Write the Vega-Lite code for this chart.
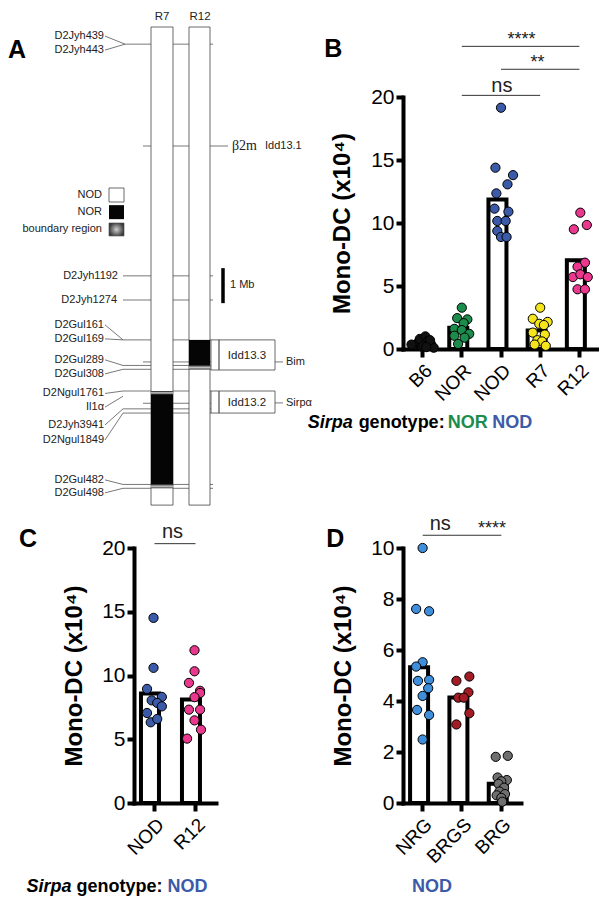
{
  "$schema": "https://vega.github.io/schema/vega-lite/v6.json",
  "background": "white",
  "padding": {"left": 8, "top": 10, "right": 0, "bottom": 0},
  "config": {
    "view": {"stroke": null},
    "font": "Liberation Sans",
    "axis": {"domainColor": "black", "domainWidth": 4, "domainCap": "square", "tickColor": "black", "tickWidth": 4, "tickSize": 7, "labelFont": "Liberation Sans", "labelFontSize": 19, "labelColor": "black", "grid": false, "titleFont": "Liberation Sans", "titleFontSize": 24, "titleFontWeight": "bold", "titleColor": "black"},
    "axisX": {"labelAngle": -45, "tickSize": 8, "labelPadding": 4},
    "axisY": {"labelPadding": 2, "labelFontSize": 21}
  },
  "resolve": {"scale": {"color": "independent"}},
  "bounds": "flush",
  "columns": 2,
  "spacing": {"row": 199, "column": 187},
  "concat": [
    {
      "width": 82,
      "height": 252,
      "layer": [
        {
          "data": {"values": [
            {"x1": -9, "y1": 0.49, "x2": 79, "y2": 0.49},
            {"x1": 9, "y1": 3.4, "x2": 94, "y2": 3.4},
            {"x1": -11, "y1": 7.11, "x2": 79, "y2": 7.11},
            {"x1": -11, "y1": 7.8, "x2": 79, "y2": 7.8},
            {"x1": -11, "y1": 8.94, "x2": 77, "y2": 8.94},
            {"x1": 9, "y1": 9.57, "x2": 77, "y2": 9.57},
            {"x1": -11, "y1": 9.67, "x2": 77, "y2": 9.67},
            {"x1": -11, "y1": 9.78, "x2": 77, "y2": 9.78},
            {"x1": -11, "y1": 10.4, "x2": 77, "y2": 10.4},
            {"x1": 9, "y1": 10.75, "x2": 77, "y2": 10.75},
            {"x1": -11, "y1": 10.91, "x2": 77, "y2": 10.91},
            {"x1": -11, "y1": 11.03, "x2": 77, "y2": 11.03},
            {"x1": -11, "y1": 13.07, "x2": 79, "y2": 13.07},
            {"x1": -11, "y1": 13.18, "x2": 79, "y2": 13.18},
            {"x1": -29, "y1": 0.26, "x2": -9, "y2": 0.49},
            {"x1": -29, "y1": 0.66, "x2": -9, "y2": 0.49},
            {"x1": -29, "y1": 8.51, "x2": -11, "y2": 8.94},
            {"x1": -29, "y1": 8.91, "x2": -11, "y2": 8.94},
            {"x1": -29, "y1": 9.51, "x2": -11, "y2": 9.67},
            {"x1": -29, "y1": 9.91, "x2": -11, "y2": 9.78},
            {"x1": -29, "y1": 10.47, "x2": -11, "y2": 10.4},
            {"x1": -29, "y1": 10.86, "x2": -11, "y2": 10.55},
            {"x1": -29, "y1": 11.37, "x2": -11, "y2": 10.91},
            {"x1": -29, "y1": 11.8, "x2": -11, "y2": 11.03},
            {"x1": -29, "y1": 12.94, "x2": -11, "y2": 13.07},
            {"x1": -29, "y1": 13.31, "x2": -11, "y2": 13.18},
            {"x1": 141, "y1": 9.57, "x2": 149, "y2": 9.57},
            {"x1": 141, "y1": 10.74, "x2": 149, "y2": 10.74},
            {"x1": 85, "y1": 8.94, "x2": 85, "y2": 9.8},
            {"x1": 85, "y1": 10.4, "x2": 85, "y2": 11.03}
          ]},
          "mark": {"type": "rule", "color": "#555555", "strokeWidth": 0.8},
          "encoding": {
            "x": {"field": "x1", "type": "quantitative", "scale": {"domain": [0, 82], "nice": false, "zero": false}, "axis": null},
            "x2": {"field": "x2"},
            "y": {"field": "y1", "type": "quantitative", "scale": {"domain": [2, 9.2], "reverse": true, "nice": false, "zero": false}, "axis": null},
            "y2": {"field": "y2"}
          }
        },
        {
          "data": {"values": [
            {"x1": 17, "x2": 39, "y1": 0, "y2": 13.66},
            {"x1": 55, "x2": 76, "y1": 0, "y2": 13.66},
            {"x1": -25, "x2": -10, "y1": 4.6, "y2": 5.0},
            {"x1": 77, "x2": 141, "y1": 8.94, "y2": 9.8},
            {"x1": 77, "x2": 141, "y1": 10.4, "y2": 11.03}
          ]},
          "mark": {"type": "rect", "fill": "white", "stroke": "#444444", "strokeWidth": 0.8},
          "encoding": {
            "x": {"field": "x1", "type": "quantitative"},
            "x2": {"field": "x2"},
            "y": {"field": "y1", "type": "quantitative"},
            "y2": {"field": "y2"}
          }
        },
        {
          "data": {"values": [
            {"x1": 85, "x2": 85.001, "y1": 8.94, "y2": 9.8},
            {"x1": 85, "x2": 85.001, "y1": 10.4, "y2": 11.03}
          ]},
          "mark": {"type": "rect", "fill": "white", "stroke": "#555555", "strokeWidth": 0.8},
          "encoding": {
            "x": {"field": "x1", "type": "quantitative"},
            "x2": {"field": "x2"},
            "y": {"field": "y1", "type": "quantitative"},
            "y2": {"field": "y2"}
          }
        },
        {
          "data": {"values": [
            {"x1": 55, "x2": 76, "y1": 8.94, "y2": 9.68},
            {"x1": 17, "x2": 39, "y1": 10.48, "y2": 13.08},
            {"x1": -25, "x2": -10, "y1": 5.09, "y2": 5.49}
          ]},
          "mark": {"type": "rect", "fill": "#050505"},
          "encoding": {
            "x": {"field": "x1", "type": "quantitative"},
            "x2": {"field": "x2"},
            "y": {"field": "y1", "type": "quantitative"},
            "y2": {"field": "y2"}
          }
        },
        {
          "data": {"values": [
            {"x1": 55, "x2": 76, "y1": 9.66, "y2": 9.79},
            {"x1": 17, "x2": 39, "y1": 10.4, "y2": 10.5},
            {"x1": 17, "x2": 39, "y1": 13.06, "y2": 13.18}
          ]},
          "mark": {"type": "rect", "fill": {"gradient": "linear", "x1": 0, "y1": 0, "x2": 0, "y2": 1, "stops": [{"offset": 0, "color": "#111111"}, {"offset": 0.5, "color": "#c8c8c8"}, {"offset": 1, "color": "#444444"}]}},
          "encoding": {
            "x": {"field": "x1", "type": "quantitative"},
            "x2": {"field": "x2"},
            "y": {"field": "y1", "type": "quantitative"},
            "y2": {"field": "y2"}
          }
        },
        {
          "data": {"values": [{"x1": -25, "x2": -10, "y1": 5.6, "y2": 5.97}]},
          "mark": {"type": "rect", "stroke": "#444444", "strokeWidth": 0.6, "fill": {"gradient": "radial", "stops": [{"offset": 0, "color": "#d0d0d0"}, {"offset": 1, "color": "#3a3a3a"}]}},
          "encoding": {
            "x": {"field": "x1", "type": "quantitative"},
            "x2": {"field": "x2"},
            "y": {"field": "y1", "type": "quantitative"},
            "y2": {"field": "y2"}
          }
        },
        {
          "data": {"values": [{"x": 89, "y1": 6.89, "y2": 7.89}]},
          "mark": {"type": "rule", "color": "black", "strokeWidth": 3.5},
          "encoding": {
            "x": {"field": "x", "type": "quantitative"},
            "y": {"field": "y1", "type": "quantitative"},
            "y2": {"field": "y2"}
          }
        },
        {
          "data": {"values": [
            {"x": -30, "y": 0.26, "t": "D2Jyh439"},
            {"x": -30, "y": 0.66, "t": "D2Jyh443"},
            {"x": -32, "y": 4.8, "t": "NOD"},
            {"x": -32, "y": 5.29, "t": "NOR"},
            {"x": -32, "y": 5.78, "t": "boundary region"},
            {"x": -16, "y": 7.11, "t": "D2Jyh1192"},
            {"x": -17, "y": 7.8, "t": "D2Jyh1274"},
            {"x": -30, "y": 8.51, "t": "D2Gul161"},
            {"x": -30, "y": 8.91, "t": "D2Gul169"},
            {"x": -30, "y": 9.51, "t": "D2Gul289"},
            {"x": -30, "y": 9.91, "t": "D2Gul308"},
            {"x": -30, "y": 10.47, "t": "D2Ngul1761"},
            {"x": -30, "y": 10.86, "t": "Il1α"},
            {"x": -30, "y": 11.37, "t": "D2Jyh3941"},
            {"x": -30, "y": 11.8, "t": "D2Ngul1849"},
            {"x": -30, "y": 12.94, "t": "D2Gul482"},
            {"x": -30, "y": 13.31, "t": "D2Gul498"}
          ]},
          "mark": {"type": "text", "align": "right", "baseline": "middle", "fontSize": 11, "font": "Liberation Sans", "color": "#222222"},
          "encoding": {
            "x": {"field": "x", "type": "quantitative"},
            "y": {"field": "y", "type": "quantitative"},
            "text": {"field": "t"}
          }
        },
        {
          "data": {"values": [
            {"x": 28, "y": -0.29, "t": "R7"},
            {"x": 66, "y": -0.29, "t": "R12"},
            {"x": 113, "y": 9.4, "t": "Idd13.3"},
            {"x": 113, "y": 10.75, "t": "Idd13.2"}
          ]},
          "mark": {"type": "text", "align": "center", "baseline": "middle", "fontSize": 11.5, "font": "Liberation Sans", "color": "#222222"},
          "encoding": {
            "x": {"field": "x", "type": "quantitative"},
            "y": {"field": "y", "type": "quantitative"},
            "text": {"field": "t"}
          }
        },
        {
          "data": {"values": [
            {"x": 96, "y": 7.37, "t": "1 Mb"},
            {"x": 152, "y": 9.57, "t": "Bim"},
            {"x": 152, "y": 10.74, "t": "Sirpα"},
            {"x": 131, "y": 3.4, "t": "Idd13.1"}
          ]},
          "mark": {"type": "text", "align": "left", "baseline": "middle", "fontSize": 11, "font": "Liberation Sans", "color": "#222222"},
          "encoding": {
            "x": {"field": "x", "type": "quantitative"},
            "y": {"field": "y", "type": "quantitative"},
            "text": {"field": "t"}
          }
        },
        {
          "data": {"values": [{"x": 98, "y": 3.4, "t": "β2m"}]},
          "mark": {"type": "text", "align": "left", "baseline": "middle", "fontSize": 14, "font": "Liberation Serif", "color": "#222222"},
          "encoding": {
            "x": {"field": "x", "type": "quantitative"},
            "y": {"field": "y", "type": "quantitative"},
            "text": {"field": "t"}
          }
        },
        {
          "data": {"values": [{"x": -126, "y": 0.886, "t": "A"}]},
          "mark": {"type": "text", "align": "left", "baseline": "alphabetic", "fontSize": 25, "fontWeight": "bold", "font": "Liberation Sans", "color": "black"},
          "encoding": {
            "x": {"field": "x", "type": "quantitative"},
            "y": {"field": "y", "type": "quantitative"},
            "text": {"field": "t"}
          }
        }
      ]
    },
    {
      "width": 196,
      "height": 252,
      "data": {"values": [
        {"g": "B6", "v": 0.3, "j": -9}, {"g": "B6", "v": 0.5, "j": -5}, {"g": "B6", "v": 0.2, "j": -1}, {"g": "B6", "v": 0.8, "j": -3}, {"g": "B6", "v": 1.0, "j": 3}, {"g": "B6", "v": 0.6, "j": 5}, {"g": "B6", "v": 0.4, "j": 9}, {"g": "B6", "v": 0.1, "j": 12}, {"g": "B6", "v": 0.25, "j": 1}, {"g": "B6", "v": 0.7, "j": 8}, {"g": "B6", "v": 0.35, "j": -12}, {"g": "B6", "v": 0.15, "j": 4},
        {"g": "NOR", "v": 3.28, "j": 0}, {"g": "NOR", "v": 2.45, "j": -5}, {"g": "NOR", "v": 2.35, "j": 6}, {"g": "NOR", "v": 2.05, "j": 2}, {"g": "NOR", "v": 1.6, "j": -8}, {"g": "NOR", "v": 1.5, "j": 0}, {"g": "NOR", "v": 1.2, "j": 8}, {"g": "NOR", "v": 1.05, "j": -8}, {"g": "NOR", "v": 0.9, "j": 3}, {"g": "NOR", "v": 0.4, "j": -4},
        {"g": "NOD", "v": 19.15, "j": 0}, {"g": "NOD", "v": 14.39, "j": -6}, {"g": "NOD", "v": 13.8, "j": 13}, {"g": "NOD", "v": 13.07, "j": 7}, {"g": "NOD", "v": 12.35, "j": -5}, {"g": "NOD", "v": 11.14, "j": -7}, {"g": "NOD", "v": 10.9, "j": 8}, {"g": "NOD", "v": 10.16, "j": -4}, {"g": "NOD", "v": 10.16, "j": 5}, {"g": "NOD", "v": 9.37, "j": -4}, {"g": "NOD", "v": 8.89, "j": 0}, {"g": "NOD", "v": 8.89, "j": 6},
        {"g": "R7", "v": 3.28, "j": 0}, {"g": "R7", "v": 2.4, "j": -8}, {"g": "R7", "v": 2.15, "j": 8}, {"g": "R7", "v": 2.0, "j": -1}, {"g": "R7", "v": 1.9, "j": 4}, {"g": "R7", "v": 1.3, "j": -8}, {"g": "R7", "v": 1.15, "j": 5}, {"g": "R7", "v": 0.7, "j": -3}, {"g": "R7", "v": 0.6, "j": 2}, {"g": "R7", "v": 0.35, "j": -6}, {"g": "R7", "v": 0.25, "j": 6},
        {"g": "R12", "v": 10.82, "j": 1}, {"g": "R12", "v": 9.5, "j": -6}, {"g": "R12", "v": 9.84, "j": 8}, {"g": "R12", "v": 6.85, "j": 6}, {"g": "R12", "v": 6.53, "j": -2}, {"g": "R12", "v": 5.71, "j": -7}, {"g": "R12", "v": 5.93, "j": 1}, {"g": "R12", "v": 5.71, "j": 9}, {"g": "R12", "v": 4.74, "j": -2}, {"g": "R12", "v": 4.74, "j": 6}
      ]},
      "layer": [
        {
          "mark": {"type": "bar", "fill": "white", "stroke": "black", "strokeWidth": 4},
          "encoding": {
            "x": {"field": "g", "type": "nominal", "scale": {"domain": ["B6", "NOR", "NOD", "R7", "R12"], "paddingInner": 0.36, "paddingOuter": 0.18}, "axis": {"title": null}},
            "y": {"aggregate": "mean", "field": "v", "type": "quantitative", "scale": {"domain": [0, 20], "nice": false}, "axis": {"title": "Mono-DC (x10⁴)", "values": [0, 2.5, 5, 7.5, 10, 12.5, 15, 17.5, 20], "labelExpr": "datum.value % 5 === 0 ? datum.label : ''", "titlePadding": 16}}
          }
        },
        {
          "mark": {"type": "point", "shape": "circle", "filled": true, "size": 85, "stroke": "black", "strokeWidth": 1, "opacity": 1},
          "encoding": {
            "x": {"field": "g", "type": "nominal"},
            "xOffset": {"field": "j", "type": "quantitative", "scale": {"domain": [-12.54, 12.54]}},
            "y": {"field": "v", "type": "quantitative"},
            "color": {"field": "g", "type": "nominal", "scale": {"domain": ["B6", "NOR", "NOD", "R7", "R12"], "range": ["#111111", "#1B8C4B", "#3B5BA8", "#F4E51C", "#E9388D"]}, "legend": null}
          }
        },
        {
          "data": {"values": [{"a": "NOR", "b": "R12", "y": 24.02}, {"a": "NOD", "b": "R12", "y": 22.2}, {"a": "NOR", "b": "R7", "y": 20.13}]},
          "mark": {"type": "rule", "color": "#333333", "strokeWidth": 1},
          "encoding": {
            "x": {"field": "a", "type": "nominal"},
            "x2": {"field": "b"},
            "y": {"field": "y", "type": "quantitative"}
          }
        },
        {
          "data": {"values": [{"a": "NOD", "o": 22, "y": 24.1, "t": "****"}, {"a": "R7", "o": -3, "y": 22.27, "t": "**"}]},
          "mark": {"type": "text", "align": "center", "baseline": "alphabetic", "fontSize": 18, "color": "#222222"},
          "encoding": {
            "x": {"field": "a", "type": "nominal"},
            "xOffset": {"field": "o", "type": "quantitative"},
            "y": {"field": "y", "type": "quantitative"},
            "text": {"field": "t"}
          }
        },
        {
          "data": {"values": [{"a": "NOD", "o": 1, "y": 20.37, "t": "ns"}]},
          "mark": {"type": "text", "align": "center", "baseline": "alphabetic", "fontSize": 20, "color": "#222222"},
          "encoding": {
            "x": {"field": "a", "type": "nominal"},
            "xOffset": {"field": "o", "type": "quantitative"},
            "y": {"field": "y", "type": "quantitative"},
            "text": {"field": "t"}
          }
        },
        {
          "data": {"values": [{"a": "B6", "o": -106, "y": 23.15, "t": "B"}]},
          "mark": {"type": "text", "align": "left", "baseline": "alphabetic", "fontSize": 25, "fontWeight": "bold", "color": "black"},
          "encoding": {
            "x": {"field": "a", "type": "nominal"},
            "xOffset": {"field": "o", "type": "quantitative"},
            "y": {"field": "y", "type": "quantitative"},
            "text": {"field": "t"}
          }
        },
        {
          "data": {"values": [{"a": "B6", "o": -124, "y": -6.3, "t": "Sirpa"}]},
          "mark": {"type": "text", "align": "left", "baseline": "alphabetic", "fontSize": 18, "fontWeight": "bold", "fontStyle": "italic", "color": "black"},
          "encoding": {
            "x": {"field": "a", "type": "nominal"},
            "xOffset": {"field": "o", "type": "quantitative"},
            "y": {"field": "y", "type": "quantitative"},
            "text": {"field": "t"}
          }
        },
        {
          "data": {"values": [{"a": "B6", "o": -69, "y": -6.3, "t": "genotype:"}]},
          "mark": {"type": "text", "align": "left", "baseline": "alphabetic", "fontSize": 18, "fontWeight": "bold", "color": "black"},
          "encoding": {
            "x": {"field": "a", "type": "nominal"},
            "xOffset": {"field": "o", "type": "quantitative"},
            "y": {"field": "y", "type": "quantitative"},
            "text": {"field": "t"}
          }
        },
        {
          "data": {"values": [{"a": "B6", "o": 27, "y": -6.3, "t": "NOR"}]},
          "mark": {"type": "text", "align": "left", "baseline": "alphabetic", "fontSize": 18, "fontWeight": "bold", "color": "#1B8C4B"},
          "encoding": {
            "x": {"field": "a", "type": "nominal"},
            "xOffset": {"field": "o", "type": "quantitative"},
            "y": {"field": "y", "type": "quantitative"},
            "text": {"field": "t"}
          }
        },
        {
          "data": {"values": [{"a": "B6", "o": 75, "y": -6.3, "t": "NOD"}]},
          "mark": {"type": "text", "align": "left", "baseline": "alphabetic", "fontSize": 18, "fontWeight": "bold", "color": "#3B5BA8"},
          "encoding": {
            "x": {"field": "a", "type": "nominal"},
            "xOffset": {"field": "o", "type": "quantitative"},
            "y": {"field": "y", "type": "quantitative"},
            "text": {"field": "t"}
          }
        }
      ]
    },
    {
      "width": 82,
      "height": 255,
      "data": {"values": [
        {"g": "NOD", "v": 14.52, "j": 0}, {"g": "NOD", "v": 10.6, "j": 0}, {"g": "NOD", "v": 8.95, "j": -7}, {"g": "NOD", "v": 8.32, "j": 9}, {"g": "NOD", "v": 8.05, "j": -2}, {"g": "NOD", "v": 7.85, "j": 4}, {"g": "NOD", "v": 7.58, "j": 9}, {"g": "NOD", "v": 7.06, "j": -7}, {"g": "NOD", "v": 6.33, "j": -3}, {"g": "NOD", "v": 6.59, "j": 4},
        {"g": "R12", "v": 11.98, "j": 0}, {"g": "R12", "v": 10.33, "j": 0}, {"g": "R12", "v": 9.42, "j": -6}, {"g": "R12", "v": 8.8, "j": 6}, {"g": "R12", "v": 8.63, "j": 6}, {"g": "R12", "v": 8.3, "j": 0}, {"g": "R12", "v": 7.32, "j": -6}, {"g": "R12", "v": 7.32, "j": 6}, {"g": "R12", "v": 6.48, "j": 0}, {"g": "R12", "v": 5.75, "j": 7}, {"g": "R12", "v": 5.05, "j": -8}
      ]},
      "layer": [
        {
          "mark": {"type": "bar", "fill": "white", "stroke": "black", "strokeWidth": 4},
          "encoding": {
            "x": {"field": "g", "type": "nominal", "scale": {"domain": ["NOD", "R12"], "paddingInner": 0.34, "paddingOuter": 0.17}, "axis": {"title": null}},
            "y": {"aggregate": "mean", "field": "v", "type": "quantitative", "scale": {"domain": [0, 20], "nice": false}, "axis": {"title": "Mono-DC (x10⁴)", "values": [0, 2.5, 5, 7.5, 10, 12.5, 15, 17.5, 20], "labelExpr": "datum.value % 5 === 0 ? datum.label : ''", "titlePadding": 15}}
          }
        },
        {
          "mark": {"type": "point", "shape": "circle", "filled": true, "size": 85, "stroke": "black", "strokeWidth": 1, "opacity": 1},
          "encoding": {
            "x": {"field": "g", "type": "nominal"},
            "xOffset": {"field": "j", "type": "quantitative", "scale": {"domain": [-13.53, 13.53]}},
            "y": {"field": "v", "type": "quantitative"},
            "color": {"field": "g", "type": "nominal", "scale": {"domain": ["NOD", "R12"], "range": ["#3B5BA8", "#E9388D"]}, "legend": null}
          }
        },
        {
          "data": {"values": [{"a": "NOD", "b": "R12", "y": 20.34}]},
          "mark": {"type": "rule", "color": "#333333", "strokeWidth": 1},
          "encoding": {
            "x": {"field": "a", "type": "nominal"},
            "x2": {"field": "b"},
            "y": {"field": "y", "type": "quantitative"}
          }
        },
        {
          "data": {"values": [{"a": "NOD", "o": 20.5, "y": 20.78, "t": "ns"}]},
          "mark": {"type": "text", "align": "center", "baseline": "alphabetic", "fontSize": 20, "color": "#222222"},
          "encoding": {
            "x": {"field": "a", "type": "nominal"},
            "xOffset": {"field": "o", "type": "quantitative"},
            "y": {"field": "y", "type": "quantitative"},
            "text": {"field": "t"}
          }
        },
        {
          "data": {"values": [{"a": "NOD", "o": -145, "y": 20.05, "t": "C"}]},
          "mark": {"type": "text", "align": "left", "baseline": "alphabetic", "fontSize": 25, "fontWeight": "bold", "color": "black"},
          "encoding": {
            "x": {"field": "a", "type": "nominal"},
            "xOffset": {"field": "o", "type": "quantitative"},
            "y": {"field": "y", "type": "quantitative"},
            "text": {"field": "t"}
          }
        },
        {
          "data": {"values": [{"a": "NOD", "o": -137, "y": -7.0, "t": "Sirpa"}]},
          "mark": {"type": "text", "align": "left", "baseline": "alphabetic", "fontSize": 18, "fontWeight": "bold", "fontStyle": "italic", "color": "black"},
          "encoding": {
            "x": {"field": "a", "type": "nominal"},
            "xOffset": {"field": "o", "type": "quantitative"},
            "y": {"field": "y", "type": "quantitative"},
            "text": {"field": "t"}
          }
        },
        {
          "data": {"values": [{"a": "NOD", "o": -83, "y": -7.0, "t": "genotype:"}]},
          "mark": {"type": "text", "align": "left", "baseline": "alphabetic", "fontSize": 18, "fontWeight": "bold", "color": "black"},
          "encoding": {
            "x": {"field": "a", "type": "nominal"},
            "xOffset": {"field": "o", "type": "quantitative"},
            "y": {"field": "y", "type": "quantitative"},
            "text": {"field": "t"}
          }
        },
        {
          "data": {"values": [{"a": "NOD", "o": 15, "y": -7.0, "t": "NOD"}]},
          "mark": {"type": "text", "align": "left", "baseline": "alphabetic", "fontSize": 18, "fontWeight": "bold", "color": "#3B5BA8"},
          "encoding": {
            "x": {"field": "a", "type": "nominal"},
            "xOffset": {"field": "o", "type": "quantitative"},
            "y": {"field": "y", "type": "quantitative"},
            "text": {"field": "t"}
          }
        }
      ]
    },
    {
      "width": 118,
      "height": 255,
      "data": {"values": [
        {"g": "NRG", "v": 10.0, "j": 0}, {"g": "NRG", "v": 7.61, "j": -7}, {"g": "NRG", "v": 7.52, "j": 7}, {"g": "NRG", "v": 5.52, "j": 0}, {"g": "NRG", "v": 5.35, "j": -7}, {"g": "NRG", "v": 4.79, "j": -5}, {"g": "NRG", "v": 4.83, "j": 7}, {"g": "NRG", "v": 4.5, "j": 6}, {"g": "NRG", "v": 4.2, "j": 0}, {"g": "NRG", "v": 3.65, "j": -6}, {"g": "NRG", "v": 3.45, "j": 7}, {"g": "NRG", "v": 2.49, "j": 0},
        {"g": "BRGS", "v": 4.79, "j": -6}, {"g": "BRGS", "v": 4.96, "j": 8}, {"g": "BRGS", "v": 4.13, "j": -4}, {"g": "BRGS", "v": 4.34, "j": 7}, {"g": "BRGS", "v": 4.13, "j": 2}, {"g": "BRGS", "v": 3.52, "j": 8}, {"g": "BRGS", "v": 3.08, "j": -6},
        {"g": "BRG", "v": 1.85, "j": 7}, {"g": "BRG", "v": 1.81, "j": -6}, {"g": "BRG", "v": 1.0, "j": -4}, {"g": "BRG", "v": 0.9, "j": 6}, {"g": "BRG", "v": 0.85, "j": 0}, {"g": "BRG", "v": 0.75, "j": -3}, {"g": "BRG", "v": 0.6, "j": 3}, {"g": "BRG", "v": 0.45, "j": -2}, {"g": "BRG", "v": 0.35, "j": 4}, {"g": "BRG", "v": 0.3, "j": -5}, {"g": "BRG", "v": 0.2, "j": 0}, {"g": "BRG", "v": 0.05, "j": 1}
      ]},
      "layer": [
        {
          "mark": {"type": "bar", "fill": "white", "stroke": "black", "strokeWidth": 4},
          "encoding": {
            "x": {"field": "g", "type": "nominal", "scale": {"domain": ["NRG", "BRGS", "BRG"], "paddingInner": 0.36, "paddingOuter": 0.18}, "axis": {"title": null}},
            "y": {"aggregate": "mean", "field": "v", "type": "quantitative", "scale": {"domain": [0, 10], "nice": false}, "axis": {"title": "Mono-DC (x10⁴)", "values": [0, 2, 4, 6, 8, 10], "titlePadding": 15}}
          }
        },
        {
          "mark": {"type": "point", "shape": "circle", "filled": true, "size": 85, "stroke": "black", "strokeWidth": 1, "opacity": 1},
          "encoding": {
            "x": {"field": "g", "type": "nominal"},
            "xOffset": {"field": "j", "type": "quantitative", "scale": {"domain": [-12.59, 12.59]}},
            "y": {"field": "v", "type": "quantitative"},
            "color": {"field": "g", "type": "nominal", "scale": {"domain": ["NRG", "BRGS", "BRG"], "range": ["#3E8EDB", "#A31C25", "#6E6E6E"]}, "legend": null}
          }
        },
        {
          "data": {"values": [{"a": "NRG", "b": "BRGS", "y": 10.5}, {"a": "BRGS", "b": "BRG", "y": 10.5}]},
          "mark": {"type": "rule", "color": "#333333", "strokeWidth": 1},
          "encoding": {
            "x": {"field": "a", "type": "nominal"},
            "x2": {"field": "b"},
            "y": {"field": "y", "type": "quantitative"}
          }
        },
        {
          "data": {"values": [{"a": "NRG", "o": 19, "y": 10.72, "t": "ns"}]},
          "mark": {"type": "text", "align": "center", "baseline": "alphabetic", "fontSize": 20, "color": "#222222"},
          "encoding": {
            "x": {"field": "a", "type": "nominal"},
            "xOffset": {"field": "o", "type": "quantitative"},
            "y": {"field": "y", "type": "quantitative"},
            "text": {"field": "t"}
          }
        },
        {
          "data": {"values": [{"a": "BRG", "o": -10, "y": 10.55, "t": "****"}]},
          "mark": {"type": "text", "align": "center", "baseline": "alphabetic", "fontSize": 18, "color": "#222222"},
          "encoding": {
            "x": {"field": "a", "type": "nominal"},
            "xOffset": {"field": "o", "type": "quantitative"},
            "y": {"field": "y", "type": "quantitative"},
            "text": {"field": "t"}
          }
        },
        {
          "data": {"values": [{"a": "NRG", "o": -104, "y": 10.03, "t": "D"}]},
          "mark": {"type": "text", "align": "left", "baseline": "alphabetic", "fontSize": 25, "fontWeight": "bold", "color": "black"},
          "encoding": {
            "x": {"field": "a", "type": "nominal"},
            "xOffset": {"field": "o", "type": "quantitative"},
            "y": {"field": "y", "type": "quantitative"},
            "text": {"field": "t"}
          }
        },
        {
          "data": {"values": [{"a": "NRG", "o": 10, "y": -3.5, "t": "NOD"}]},
          "mark": {"type": "text", "align": "center", "baseline": "alphabetic", "fontSize": 18, "fontWeight": "bold", "color": "#3B5BA8"},
          "encoding": {
            "x": {"field": "a", "type": "nominal"},
            "xOffset": {"field": "o", "type": "quantitative"},
            "y": {"field": "y", "type": "quantitative"},
            "text": {"field": "t"}
          }
        }
      ]
    }
  ]
}
